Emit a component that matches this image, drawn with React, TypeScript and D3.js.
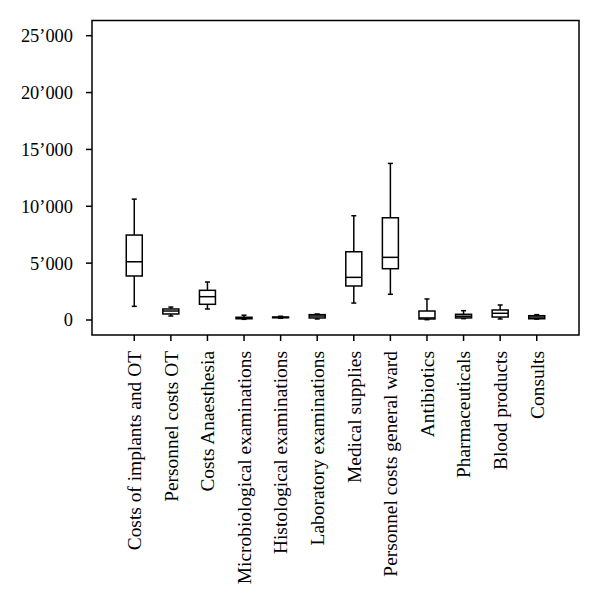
import React from "react";
import * as d3 from "d3";

const categories = [
  "Costs of implants and OT",
  "Personnel costs OT",
  "Costs Anaesthesia",
  "Microbiological examinations",
  "Histological examinations",
  "Laboratory examinations",
  "Medical supplies",
  "Personnel costs general ward",
  "Antibiotics",
  "Pharmaceuticals",
  "Blood products",
  "Consults",
];
const whiskerLow = [1200, 350, 970, 60, 150, 90, 1490, 2260, 30, 120, 90, 80];
const q1 = [3870, 530, 1380, 110, 200, 180, 2990, 4510, 90, 180, 260, 110];
const median = [5120, 790, 2050, 170, 230, 350, 3750, 5510, 180, 330, 590, 260];
const q3 = [7470, 970, 2610, 240, 260, 470, 6000, 8990, 790, 500, 880, 380];
const whiskerHigh = [10630, 1140, 3340, 420, 330, 530, 9170, 13770, 1850, 820, 1320, 470];
const yTicks = [0, 5000, 10000, 15000, 20000, 25000];

const W = 600;
const H = 607;
const left = 92;
const right = 579;
const top = 20.5;
const bottom = 335;

export default function App() {
  const x = d3.scalePoint<string>().domain(categories).range([left, right]).padding(1.155);
  const y = d3.scaleLinear().domain([-1319, 26337]).range([bottom, top]);
  const fmt = (v: number) => {
    if (v === 0) return "0";
    const s = d3.format("d")(v);
    return s.slice(0, s.length - 3) + "\u2019" + s.slice(s.length - 3);
  };
  const boxW = 16;
  const capW = 5;
  const sw = 1.5;
  return (
    <svg width={W} height={H} style={{ position: "absolute", left: 0, top: 0, background: "#fff" }}>
      <rect x={left} y={top} width={right - left} height={bottom - top} fill="none" stroke="#000" strokeWidth={sw} />
      {yTicks.map((t) => (
        <g key={t}>
          <line x1={left - 6} x2={left} y1={y(t)} y2={y(t)} stroke="#000" strokeWidth={sw} />
          <text
            x={73}
            y={y(t)}
            dy="0.35em"
            textAnchor="end"
            fontFamily="'Liberation Serif', serif"
            fontSize={18.4}
            fill="#000"
          >
            {fmt(t)}
          </text>
        </g>
      ))}
      {categories.map((c, i) => {
        const cx = x(c) as number;
        return (
          <g key={c}>
            <line x1={cx} x2={cx} y1={bottom} y2={bottom + 6} stroke="#000" strokeWidth={sw} />
            <text
              transform={`translate(${cx},${bottom + 16}) rotate(-90)`}
              dy="0.35em"
              textAnchor="end"
              fontFamily="'Liberation Serif', serif"
              fontSize={19.4}
              fill="#000"
            >
              {c}
            </text>
            <line x1={cx} x2={cx} y1={y(whiskerHigh[i])} y2={y(q3[i])} stroke="#000" strokeWidth={sw} />
            <line x1={cx} x2={cx} y1={y(q1[i])} y2={y(whiskerLow[i])} stroke="#000" strokeWidth={sw} />
            <line x1={cx - capW / 2} x2={cx + capW / 2} y1={y(whiskerHigh[i])} y2={y(whiskerHigh[i])} stroke="#000" strokeWidth={sw} />
            <line x1={cx - capW / 2} x2={cx + capW / 2} y1={y(whiskerLow[i])} y2={y(whiskerLow[i])} stroke="#000" strokeWidth={sw} />
            <rect
              x={cx - boxW / 2}
              y={y(q3[i])}
              width={boxW}
              height={y(q1[i]) - y(q3[i])}
              fill="#fff"
              stroke="#000"
              strokeWidth={sw}
            />
            <line x1={cx - boxW / 2} x2={cx + boxW / 2} y1={y(median[i])} y2={y(median[i])} stroke="#000" strokeWidth={sw} />
          </g>
        );
      })}
    </svg>
  );
}
